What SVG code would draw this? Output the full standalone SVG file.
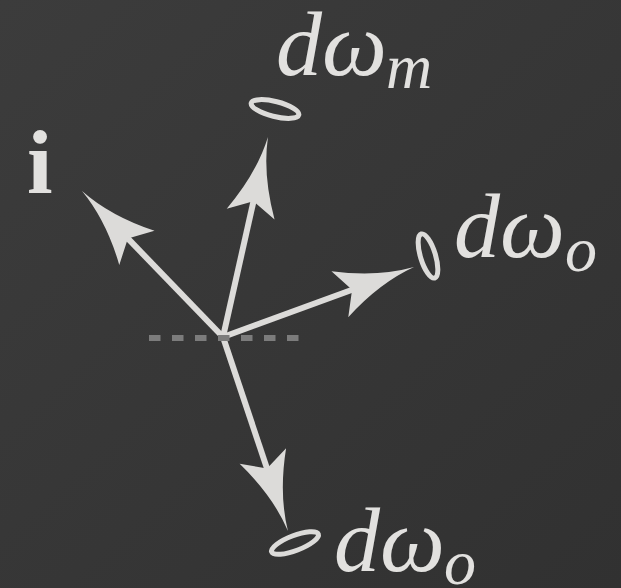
<svg xmlns="http://www.w3.org/2000/svg" width="621" height="588" viewBox="0 0 621 588">
<defs>
<linearGradient id="bg" x1="0" y1="0" x2="1" y2="1">
<stop offset="0" stop-color="#3c3c3c"/>
<stop offset="1" stop-color="#313131"/>
</linearGradient>
<marker id="head" markerUnits="userSpaceOnUse" orient="auto" overflow="visible" refX="0" refY="0" markerWidth="1" markerHeight="1">
<path d="M60,0 Q22,-3 -19,-24.5 L-6,0 L-19,24.5 Q22,3 60,0 Z" fill="#dcdbd9"/>
</marker>
</defs>
<style>
.arrow{stroke:#dcdbd9;stroke-width:6;fill:none;marker-end:url(#head)}
.ring{fill:none;stroke:#dcdbd9;stroke-width:5}
.lbl{font-family:"Liberation Serif",serif;font-style:italic;fill:#e2e1df}
.big{font-size:92px}
.sub{font-size:64px}
</style>
<rect width="621" height="588" fill="url(#bg)"/>
<g id="connectors">
<line class="arrow" x1="223" y1="337" x2="123.7" y2="234.2"/>
<line class="arrow" x1="223" y1="337" x2="254.8" y2="195.5"/>
<line class="arrow" x1="223" y1="337" x2="357.7" y2="287.7"/>
<line class="arrow" x1="223" y1="337" x2="268.9" y2="474.1"/>
</g>
<g id="horizon">
<line x1="149" y1="338" x2="300" y2="338" stroke="#7c7c7c" stroke-width="6" stroke-dasharray="11.5 11.5"/>
</g>
<g id="node-i">
<text x="27" y="193" style="font-family:'Liberation Serif',serif;font-weight:bold;font-size:92px;fill:#e2e1df">i</text>
</g>
<g id="node-dwm">
<ellipse class="ring" cx="275" cy="109" rx="24.5" ry="7.5" transform="rotate(14 275 109)"/>
<text class="lbl big" x="276" y="75">dω</text>
<text class="lbl sub" x="386" y="88">m</text>
</g>
<g id="node-dwo-right">
<ellipse class="ring" cx="428" cy="256" rx="23" ry="7.5" transform="rotate(73 428 256)"/>
<text class="lbl big" x="454" y="257">dω</text>
<text class="lbl sub" x="565" y="271">o</text>
</g>
<g id="node-dwo-bottom">
<ellipse class="ring" cx="295" cy="543" rx="25" ry="7.5" transform="rotate(-21 295 543)"/>
<text class="lbl big" x="334" y="571">dω</text>
<text class="lbl sub" x="444" y="584">o</text>
</g>
</svg>
